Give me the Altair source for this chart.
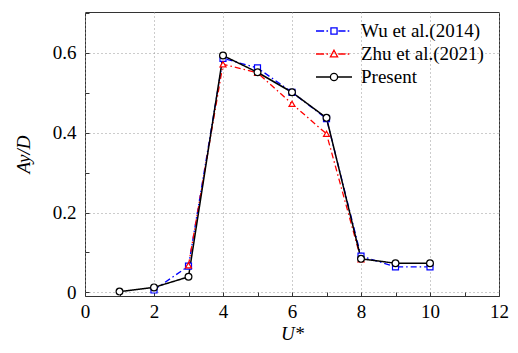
import altair as alt
import pandas as pd

# ---- data ----
series_names = ["Wu et al.(2014)", "Zhu et al.(2021)", "Present"]

wu_u = [2, 3, 4, 5, 6, 7, 8, 9, 10]
wu_a = [0.006, 0.066, 0.586, 0.562, 0.501, 0.435, 0.091, 0.064, 0.064]

zhu_u = [3, 4, 5, 6, 7, 8]
zhu_a = [0.068, 0.571, 0.550, 0.472, 0.397, 0.083]

present_u = [1, 2, 3, 4, 5, 6, 7, 8, 9, 10]
present_a = [0.002, 0.0125, 0.039, 0.593, 0.551, 0.501, 0.437, 0.084, 0.073, 0.073]

x_ticks = [0, 2, 4, 6, 8, 10, 12]
x_minor = list(range(0, 13))
y_ticks = [0, 0.2, 0.4, 0.6]
y_minor = [0, 0.1, 0.2, 0.3, 0.4, 0.5, 0.6, 0.7]

colors = ["#0000ff", "#ff0000", "#000000"]
dashes = [[6, 3, 1.5, 3], [6, 3, 1.5, 3], [1, 0]]
shapes = ["square", "triangle-up", "circle"]
widths = [1.3, 1.3, 1.5]

FONT = "Liberation Serif, Times New Roman, serif"
W, H = 414, 284

xs = alt.Scale(domain=[0, 12], nice=False, zero=False)
ys = alt.Scale(domain=[-0.009, 0.702], nice=False, zero=False)

axis_font = dict(labelFont=FONT, labelFontSize=19, labelColor="black",
                 titleFont=FONT, titleFontSize=19, titleColor="black",
                 titleFontWeight="normal", titleFontStyle="italic",
                 labelFlush=False, labelOverlap=False)

main_x_axis = alt.Axis(values=x_ticks, format="d", title="U*", tickSize=0, labelPadding=6,
                       grid=True, gridDash=[1, 3], gridColor="#999999", gridWidth=1,
                       domain=False, titlePadding=3, **axis_font)
main_y_axis = alt.Axis(values=y_ticks, title="Ay/D", tickSize=0, labelPadding=9,
                       grid=True, gridDash=[1, 3], gridColor="#999999", gridWidth=1,
                       domain=False, titlePadding=19,
                       labelExpr="datum.value == 0 ? '0' : format(datum.value, '.1f')",
                       **axis_font)

datasets = [
    pd.DataFrame({"U": wu_u, "A": wu_a, "s": series_names[0]}),
    pd.DataFrame({"U": zhu_u, "A": zhu_a, "s": series_names[1]}),
    pd.DataFrame({"U": present_u, "A": present_a, "s": series_names[2]}),
]

layers = []
for i, df in enumerate(datasets):
    if i == 0:
        xe = alt.X("U:Q", scale=xs, axis=main_x_axis)
        ye = alt.Y("A:Q", scale=ys, axis=main_y_axis)
    else:
        xe = alt.X("U:Q", scale=xs, axis=None)
        ye = alt.Y("A:Q", scale=ys, axis=None)
    line = alt.Chart(df).mark_line(color=colors[i], strokeDash=dashes[i],
                                   strokeWidth=widths[i]).encode(x=xe, y=ye)
    layers.append(line)
for i, df in enumerate(datasets):
    pts = alt.Chart(df).mark_point(shape=shapes[i], color=colors[i], filled=False,
                                   fill="white", fillOpacity=1, opacity=1,
                                   size=36 if i < 2 else 46, strokeWidth=1.2).encode(
        x=alt.X("U:Q", scale=xs, axis=None),
        y=alt.Y("A:Q", scale=ys, axis=None))
    layers.append(pts)

# inward ticks (axes shifted onto the frame)
tick_layer = alt.Chart(datasets[2]).mark_point(opacity=0).encode(
    x=alt.X("U:Q", scale=xs, axis=alt.Axis(orient="top", offset=-H, values=x_minor,
                                            labels=False, title=None, domain=False,
                                            grid=False, tickSize=4, tickColor="#333333")),
    y=alt.Y("A:Q", scale=ys, axis=alt.Axis(orient="right", offset=-W, values=y_minor,
                                            labels=False, title=None, domain=False,
                                            grid=False, tickSize=4, tickColor="#333333")))
layers.append(tick_layer)

# legend symbols: line + marker drawn as custom paths
leg_paths = [
    "M-1,0H-0.55M-0.42,0H-0.33M-0.17,-0.17H0.17V0.17H-0.17ZM0.24,0H0.64M0.76,0H0.85",
    "M-1,0H-0.55M-0.42,0H-0.33M0,-0.21L0.2,0.16L-0.2,0.16ZM0.24,0H0.64M0.76,0H0.85",
    "M-1,0H-0.2M0.2,0H1M0.2,0A0.2,0.2 0 1,1 -0.2,0A0.2,0.2 0 1,1 0.2,0Z",
]
legend_cfg = alt.Legend(title=None, orient="none", legendX=230, legendY=11,
                        labelFont=FONT, labelFontSize=19, labelColor="black",
                        symbolSize=1296, symbolStrokeWidth=1.3, clipHeight=16,
                        rowPadding=4, labelOffset=8, symbolFillColor="white",
                        symbolOpacity=1)
legend_layer = alt.Chart(datasets[2]).transform_filter("false").mark_point(
    filled=False, opacity=1).encode(
    x=alt.X("U:Q", scale=xs, axis=None),
    y=alt.Y("A:Q", scale=ys, axis=None),
    color=alt.Color("s:N", scale=alt.Scale(domain=series_names, range=colors), legend=legend_cfg),
    shape=alt.Shape("s:N", scale=alt.Scale(domain=series_names, range=leg_paths), legend=legend_cfg),
)
layers.append(legend_layer)

chart = alt.layer(*layers).resolve_axis(x="independent", y="independent").properties(
    width=W, height=H,
    background="white",
    autosize=alt.AutoSizeParams(type="none"),
    padding={"left": 77, "top": 4, "right": 11, "bottom": 49},
).configure_view(stroke="#333333", strokeWidth=1)

chart.save("out.html", embed_options={"renderer": "svg", "actions": False})
